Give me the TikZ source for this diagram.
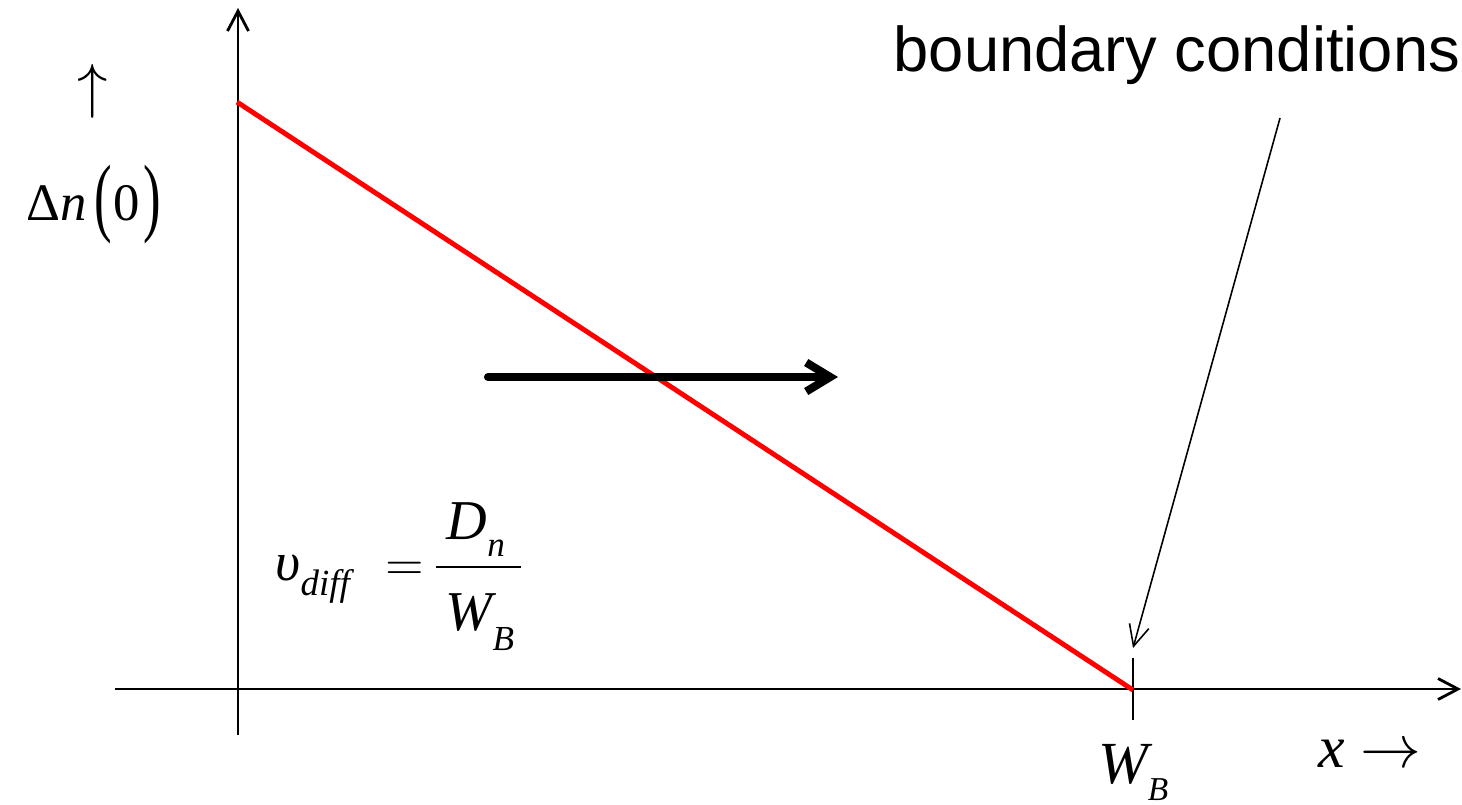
\documentclass[tikz,border=0pt]{standalone}
\usepackage{amsmath}
\usepackage{graphicx}
\usepackage{fontspec}
\setmainfont{Liberation Serif}
\newfontfamily\sansfont{Liberation Sans}
\usetikzlibrary{arrows.meta}

\begin{document}
\begin{tikzpicture}[
    axis/.style={line width=0.8pt, -{Straight Barb[length=2mm,width=2.1mm]}},
    pointer/.style={line width=0.45pt, -{Straight Barb[length=2.1mm,width=2mm]}},
    flow/.style={line width=2.3pt, line cap=round, -{Straight Barb[length=2.4mm,width=2.9mm]}},
    profile/.style={red, line width=1.4pt}
]
    \useasboundingbox (0,0) rectangle (14.62,8.04);

    \coordinate (ybot) at (2.38,0.69);
    \coordinate (ytop) at (2.38,7.96);
    \coordinate (xleft) at (1.15,1.15);
    \coordinate (xright) at (14.61,1.15);
    \coordinate (n0) at (2.37,7.02);
    \coordinate (WB) at (11.33,1.14);
    \coordinate (tick top) at (11.33,1.46);
    \coordinate (tick bot) at (11.33,0.84);

    \draw[axis] (ybot) -- (ytop);
    \draw[axis] (xleft) -- (xright);
    \draw[line width=0.8pt] (tick top) -- (tick bot);

    \draw[profile] (n0) -- (WB);

    \coordinate (flow start) at (4.88,4.27);
    \coordinate (flow end) at (8.38,4.27);
    \draw[flow] (flow start) -- (flow end);

    \node[anchor=base west, inner sep=0] (bc) at (8.93,7.33)
        {\sansfont\fontsize{18}{22}\selectfont boundary conditions};
    \coordinate (bc tail) at (12.80,6.86);
    \coordinate (bc head) at (11.33,1.56);
    \draw[pointer] (bc tail) -- (bc head);

    \node[inner sep=0] (up) at (0.93,7.13) {\fontsize{18}{18}\selectfont$\uparrow$};
    \node[anchor=base, inner sep=0] (dn0) at (0.94,5.84)
        {\fontsize{15}{17}\selectfont Δ\textit{n}\kern2pt\raisebox{-1.6pt}{\scalebox{1}[1.65]{(}}\kern0.5pt 0\kern1pt\raisebox{-1.6pt}{\scalebox{1}[1.65]{)}}};

    \node[anchor=base west, inner sep=0] (vdiff) at (2.75,2.24)
        {\fontsize{14.6}{17}\selectfont
        $\text{\fontsize{15.5}{17}\selectfont\textit{υ}\raisebox{-4.5pt}{\fontsize{10.5}{11}\selectfont\textit{diff}}}\mkern6mu=\mkern-2mu
        \dfrac{\makebox[24pt][l]{\hspace{3pt}\fontsize{16}{17}\selectfont\textit{D}\raisebox{-5pt}{\fontsize{10}{10}\selectfont\textit{n}}}\rule[-6pt]{0pt}{0pt}}
              {\makebox[24pt][l]{\hspace{2.5pt}\rule{0pt}{16pt}\fontsize{16}{17}\selectfont\textit{W}\kern-1pt\raisebox{-5.6pt}{\fontsize{10}{10}\selectfont\textit{B}}}}$};

    \node[anchor=base west, inner sep=0] (wb) at (10.98,0.21)
        {\fontsize{17}{20}\selectfont\textit{W}\kern-1.5pt\raisebox{-5pt}{\fontsize{9.5}{10}\selectfont\textit{B}}};
    \node[anchor=base west, inner sep=0] (xlab) at (13.18,0.37)
        {\fontsize{17}{20}\selectfont\textit{x} $\rightarrow$};
\end{tikzpicture}
\end{document}
